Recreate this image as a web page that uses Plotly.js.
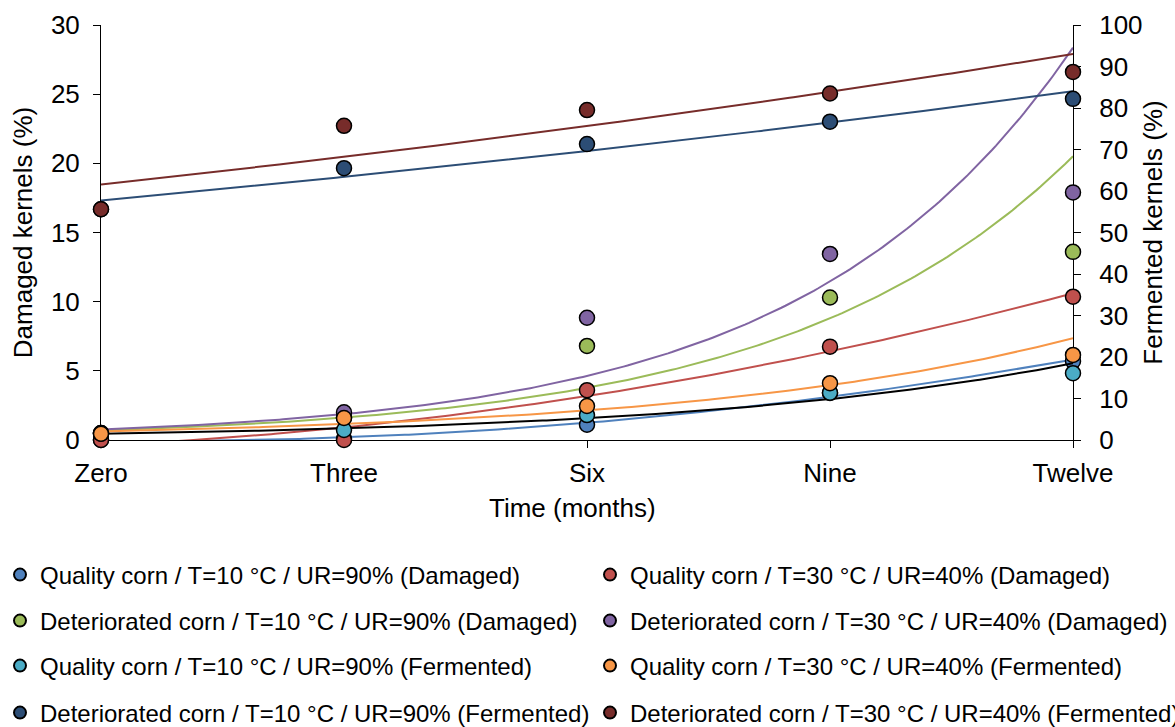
<!DOCTYPE html>
<html>
<head>
<meta charset="utf-8">
<script src="https://cdn.plot.ly/plotly-3.0.1.min.js"></script>
<style>
  html, body { margin: 0; padding: 0; background: #ffffff; }
  #chart { width: 1175px; height: 727px; }
</style>
</head>
<body>
<div id="chart"></div>
<script>
// Storage time (months) and their labels
const months = [0, 3, 6, 9, 12];
const monthLabels = ['Zero', 'Three', 'Six', 'Nine', 'Twelve'];

// Damaged kernels (%) — left axis
const qualityT10Damaged = [0, 0.1, 1.1, 3.4, 5.7];
const qualityT30Damaged = [0, 0, 3.6, 6.75, 10.36];
const deterioratedT10Damaged = [0.5, 1.6, 6.8, 10.3, 13.6];
const deterioratedT30Damaged = [0.5, 2.0, 8.84, 13.45, 17.9];

// Fermented kernels (%) — right axis
const qualityT10Fermented = [1.5, 2.4, 6.0, 11.4, 16.1];
const qualityT30Fermented = [1.5, 5.3, 8.2, 13.7, 20.5];
const deterioratedT10Fermented = [55.6, 65.5, 71.3, 76.7, 82.2];
const deterioratedT30Fermented = [55.6, 75.7, 79.5, 83.5, 88.7];

const seriesNames = [
  'Quality corn / T=10 °C / UR=90% (Damaged)',
  'Quality corn / T=30 °C / UR=40% (Damaged)',
  'Deteriorated corn / T=10 °C / UR=90% (Damaged)',
  'Deteriorated corn / T=30 °C / UR=40% (Damaged)',
  'Quality corn / T=10 °C / UR=90% (Fermented)',
  'Quality corn / T=30 °C / UR=40% (Fermented)',
  'Deteriorated corn / T=10 °C / UR=90% (Fermented)',
  'Deteriorated corn / T=30 °C / UR=40% (Fermented)'
];
const seriesValues = [
  qualityT10Damaged, qualityT30Damaged, deterioratedT10Damaged, deterioratedT30Damaged,
  qualityT10Fermented, qualityT30Fermented, deterioratedT10Fermented, deterioratedT30Fermented
];
const seriesColors = ['#4F81BD', '#C0504D', '#9BBB59', '#8064A2', '#4BACC6', '#F79646', '#2C4D75', '#772C2A'];
const trendColors  = ['#4F81BD', '#C0504D', '#9BBB59', '#8064A2', '#000000', '#F79646', '#2C4D75', '#772C2A'];
const seriesAxis   = ['y', 'y', 'y', 'y', 'y2', 'y2', 'y2', 'y2'];
// Trendline type: series containing zeros use a 2nd-order polynomial
const trendType    = ['poly2', 'poly2', 'exp', 'exp', 'exp', 'exp', 'exp', 'exp'];

// Least-squares exponential fit y = a·e^(b·x)
function expFit(xs, ys) {
  const n = xs.length;
  const ly = ys.map(v => Math.log(v));
  const mx = xs.reduce((s, v) => s + v, 0) / n;
  const my = ly.reduce((s, v) => s + v, 0) / n;
  let sxy = 0, sxx = 0;
  for (let i = 0; i < n; i++) { sxy += (xs[i] - mx) * (ly[i] - my); sxx += (xs[i] - mx) ** 2; }
  const b = sxy / sxx;
  const a = Math.exp(my - b * mx);
  return x => a * Math.exp(b * x);
}

// Least-squares quadratic fit y = c0 + c1·x + c2·x²
function poly2Fit(xs, ys) {
  const S = [0, 0, 0, 0, 0], T = [0, 0, 0];
  for (let i = 0; i < xs.length; i++) {
    for (let k = 0; k < 5; k++) S[k] += xs[i] ** k;
    for (let k = 0; k < 3; k++) T[k] += ys[i] * xs[i] ** k;
  }
  const M = [[S[0], S[1], S[2], T[0]], [S[1], S[2], S[3], T[1]], [S[2], S[3], S[4], T[2]]];
  for (let c = 0; c < 3; c++) {
    for (let r = c + 1; r < 3; r++) {
      const f = M[r][c] / M[c][c];
      for (let k = c; k < 4; k++) M[r][k] -= f * M[c][k];
    }
  }
  const coef = [0, 0, 0];
  for (let r = 2; r >= 0; r--) {
    let s = M[r][3];
    for (let k = r + 1; k < 3; k++) s -= M[r][k] * coef[k];
    coef[r] = s / M[r][r];
  }
  return x => coef[0] + coef[1] * x + coef[2] * x * x;
}

const fontFamily = '"Liberation Sans", Arial, sans-serif';

const traces = [];
const trendX = [];
for (let x = 0; x <= 12.0001; x += 0.05) trendX.push(+x.toFixed(2));

// Trendlines first so the points sit on top
seriesValues.forEach((vals, i) => {
  const f = trendType[i] === 'exp' ? expFit(months, vals) : poly2Fit(months, vals);
  traces.push({
    type: 'scatter', mode: 'lines',
    x: trendX, y: trendX.map(f),
    yaxis: seriesAxis[i],
    line: { color: trendColors[i], width: 2 },
    showlegend: false, hoverinfo: 'skip'
  });
});

// One legend box per entry: two columns, four rows
const legendIds = seriesNames.map((_, i) => i === 0 ? 'legend' : 'legend' + (i + 1));

seriesValues.forEach((vals, i) => {
  traces.push({
    type: 'scatter', mode: 'markers',
    name: seriesNames[i],
    x: months, y: vals,
    yaxis: seriesAxis[i],
    cliponaxis: false,
    legend: legendIds[i],
    marker: { size: 15, color: seriesColors[i], line: { color: '#000000', width: 1.5 } }
  });
});

const legendRowsY = [575, 621, 666, 713];
const legendColsX = [-5, 590];
function legendBox(i) {
  const row = Math.floor(i / 2), col = i % 2;
  return {
    orientation: 'h',
    xref: 'container', yref: 'container',
    x: legendColsX[col] / 1175, xanchor: 'left',
    y: 1 - legendRowsY[row] / 727, yanchor: 'middle',
    itemsizing: 'constant',
    bgcolor: 'rgba(0,0,0,0)',
    font: { family: fontFamily, size: 24, color: '#000000' }
  };
}

const tickFont = { family: fontFamily, size: 26, color: '#000000' };
const titleFont = { family: fontFamily, size: 26, color: '#000000' };

const layout = {
  width: 1175, height: 727,
  margin: { l: 101, r: 102, t: 25, b: 287, pad: 0 },
  paper_bgcolor: '#ffffff', plot_bgcolor: '#ffffff',
  font: { family: fontFamily, color: '#000000' },
  xaxis: {
    range: [0, 12], tickvals: months, ticktext: monthLabels,
    showgrid: false, zeroline: false,
    showline: true, linecolor: '#000000', linewidth: 1,
    ticks: 'outside', ticklen: 7, tickcolor: '#000000',
    ticklabelstandoff: 3,
    tickfont: tickFont, layer: 'below traces', fixedrange: true
  },
  yaxis: {
    range: [0, 30], dtick: 5,
    showgrid: false, zeroline: false,
    showline: true, linecolor: '#000000', linewidth: 1,
    ticks: 'outside', ticklen: 7, tickcolor: '#000000',
    ticklabelstandoff: 8,
    tickfont: tickFont, layer: 'below traces',
    title: { text: 'Damaged kernels (%)', font: titleFont, standoff: 10 }
  },
  yaxis2: {
    range: [0, 100], dtick: 10,
    overlaying: 'y', side: 'right',
    showgrid: false, zeroline: false,
    showline: true, linecolor: '#000000', linewidth: 1,
    ticks: 'outside', ticklen: 7, tickcolor: '#000000',
    ticklabelstandoff: 13,
    tickfont: tickFont, layer: 'below traces',
    title: { text: 'Fermented kernels (%)', font: titleFont, standoff: 2 }
  },
  annotations: [{
    text: 'Time (months)', xref: 'paper', yref: 'paper',
    x: (572 - 101) / 972, y: -(508 - 440) / 415,
    xanchor: 'center', yanchor: 'middle', showarrow: false,
    font: titleFont
  }]
};
legendIds.forEach((id, i) => { layout[id] = legendBox(i); });

Plotly.newPlot('chart', traces, layout, { staticPlot: true, displayModeBar: false });
</script>
</body>
</html>
